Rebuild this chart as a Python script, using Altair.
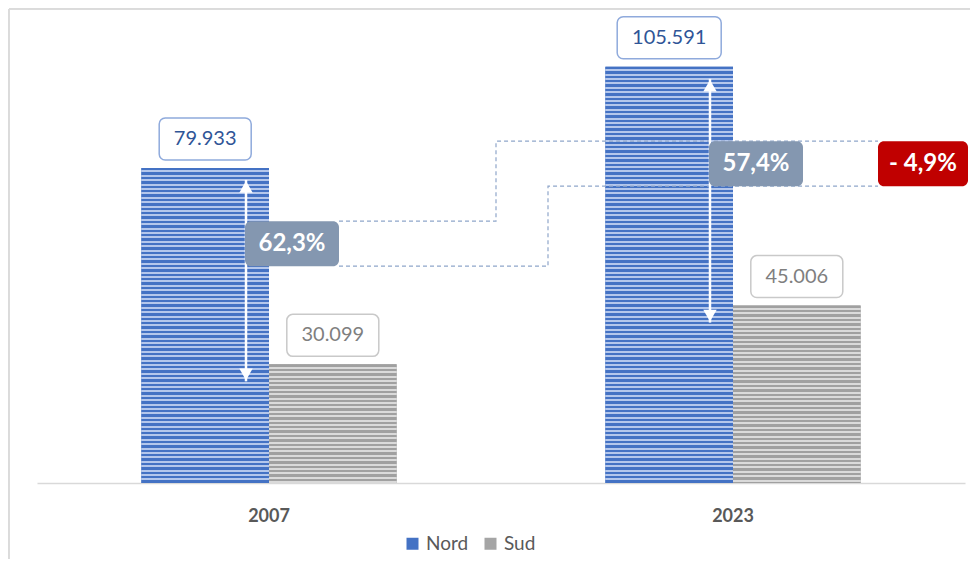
import altair as alt
import pandas as pd

# ---- data ----
years = ["2007", "2023"]
series = ["Nord", "Sud"]
nord = [79933, 105591]
sud = [30099, 45006]

Y_MAX = 120000
W, H = 928, 473
K = H / Y_MAX  # px per unit


def fmt_int(v):
    return f"{v:,}".replace(",", ".")


def fmt_pct(p):
    return f"{p:.1f}".replace(".", ",") + "%"


rows = []
for i, yr in enumerate(years):
    rows.append({"year": yr, "series": "Nord", "value": nord[i], "label": fmt_int(nord[i])})
    rows.append({"year": yr, "series": "Sud", "value": sud[i], "label": fmt_int(sud[i])})
bars = pd.DataFrame(rows)

pcts = [round((n - s) / n * 100, 1) for n, s in zip(nord, sud)]
ann = pd.DataFrame({
    "year": years,
    "nord": nord,
    "sud": sud,
    "mid": [(n + s) / 2 for n, s in zip(nord, sud)],
    "pct": [fmt_pct(p) for p in pcts],
})
diff = round(pcts[1] - pcts[0], 1)
diff_label = ("- " if diff < 0 else "+ ") + fmt_pct(abs(diff))

mid07, mid23 = ann["mid"].tolist()
# connector polylines (x in plot pixels, y in data units)
lines = pd.DataFrame({
    "line": ["top"] * 4 + ["bot"] * 4,
    "i": [0, 1, 2, 3] * 2,
    "px": [302, 459, 459, 841, 302, 511, 511, 841],
    "v": [mid07, mid07, mid23, mid23, mid07, mid07, mid23, mid23],
})
red = pd.DataFrame({"x1": [841], "x2": [931], "xc": [886], "mid": [mid23], "label": [diff_label]})


# ---- stripes (style) ----
def stripes(h_px, dark, light, period=4.4, dark_frac=0.55):
    stops = []
    y = 0.0
    while y < h_px - 1e-6:
        a = y / h_px
        b = min((y + period * dark_frac) / h_px, 1)
        c = min((y + period) / h_px, 1)
        stops += [
            {"offset": a, "color": dark},
            {"offset": b, "color": dark},
            {"offset": b, "color": light},
            {"offset": c, "color": light},
        ]
        y += period
    return {"gradient": "linear", "x1": 0, "x2": 0, "y1": 0, "y2": 1, "stops": stops}


STRIPE = {"Nord": ("#4472C4", "#B4C7EC"), "Sud": ("#A0A0A0", "#DADADA")}

# ---- encodings ----
x_enc = alt.X(
    "year:N", sort=years,
    scale=alt.Scale(paddingInner=0.45, paddingOuter=0.225),
    axis=alt.Axis(title=None, labelAngle=0, ticks=False, labelPadding=24, grid=False,
                  labelFont="Lato", labelFontWeight="bold", labelFontSize=18,
                  labelColor="#595959", domainColor="#D9D9D9", domainWidth=1.5),
)
xo_enc = alt.XOffset("series:N", sort=series, scale=alt.Scale(paddingInner=0, paddingOuter=0))
y_scale = alt.Scale(domain=[0, Y_MAX], nice=False)


def Y(field):
    return alt.Y(field, scale=y_scale, axis=None)


layers = []

# solid base bars (carry the legend)
layers.append(
    alt.Chart(bars).mark_bar().encode(
        x=x_enc, xOffset=xo_enc, y=Y("value:Q"),
        color=alt.Color("series:N", sort=series,
                        scale=alt.Scale(domain=series, range=["#4472C4", "#A5A5A5"]),
                        legend=alt.Legend(title=None, orient="none", legendX=366, legendY=524,
                                          direction="horizontal", symbolType="square",
                                          symbolSize=144, labelFont="Lato", labelFontSize=19,
                                          labelColor="#595959", columnPadding=12, labelOffset=4,
                                          padding=0, symbolStrokeWidth=0)),
    )
)

# striped overlays
for _, r in bars.iterrows():
    dark, light = STRIPE[r["series"]]
    grad = stripes(r["value"] * K, dark, light)
    layers.append(
        alt.Chart(bars).transform_filter(
            (alt.datum.year == r["year"]) & (alt.datum.series == r["series"])
        ).mark_bar(color=grad).encode(x=x_enc, xOffset=xo_enc, y=Y("value:Q"))
    )

# dashed connectors
dash_style = dict(strokeDash=[4, 3], color="#8FA6CA", strokeWidth=1.2)
layers.append(
    alt.Chart(lines).transform_filter(alt.datum.line == "top").mark_line(yOffset=-45, **dash_style).encode(
        x=alt.X("px:Q", scale=None, axis=None), y=Y("v:Q"), order="i:Q")
)
layers.append(
    alt.Chart(lines).transform_filter(alt.datum.line == "bot").mark_line(**dash_style).encode(
        x=alt.X("px:Q", scale=None, axis=None), y=Y("v:Q"), order="i:Q")
)

# double arrows
layers.append(
    alt.Chart(ann).mark_rule(color="white", strokeWidth=2.5, xOffset=-23, yOffset=12, y2Offset=17).encode(
        x=x_enc, y=Y("nord:Q"), y2="sud:Q")
)
layers.append(
    alt.Chart(ann).mark_point(shape="triangle-up", filled=True, color="white", opacity=1,
                              size=180, xOffset=-23, yOffset=19).encode(x=x_enc, y=Y("nord:Q"))
)
layers.append(
    alt.Chart(ann).mark_point(shape="triangle-down", filled=True, color="white", opacity=1,
                              size=180, xOffset=-23, yOffset=10).encode(x=x_enc, y=Y("sud:Q"))
)

# value boxes + labels
layers.append(
    alt.Chart(bars).transform_calculate(boxw="20 + 12*length(datum.label)")
    .mark_bar(fill="white", strokeWidth=1.5, cornerRadius=6, yOffset=-8, y2Offset=-50)
    .encode(
        x=x_enc, xOffset=xo_enc, y=Y("value:Q"), y2="value:Q",
        size=alt.Size("boxw:Q", scale=None, legend=None),
        stroke=alt.condition(alt.datum.series == "Nord", alt.value("#8FAADC"), alt.value("#C9C9C9")),
    )
)
layers.append(
    alt.Chart(bars).mark_text(font="Lato", fontSize=20, dy=-29, baseline="middle").encode(
        x=x_enc, xOffset=xo_enc, y=Y("value:Q"), text="label:N",
        color=alt.condition(alt.datum.series == "Nord", alt.value("#2F5597"), alt.value("#7F7F7F")),
    )
)

# percent boxes
layers.append(
    alt.Chart(ann).mark_bar(color="#8497B0", cornerRadius=6, width=94, xOffset=23, y2Offset=-45).encode(
        x=x_enc, y=Y("mid:Q"), y2="mid:Q")
)
layers.append(
    alt.Chart(ann).mark_text(font="Lato", fontSize=24, fontWeight="bold", color="white",
                             dx=23, dy=-22.5, baseline="middle").encode(
        x=x_enc, y=Y("mid:Q"), text="pct:N")
)

# difference box
layers.append(
    alt.Chart(red).mark_rect(color="#C00000", cornerRadius=6, y2Offset=-45).encode(
        x=alt.X("x1:Q", scale=None, axis=None), x2="x2:Q", y=Y("mid:Q"), y2="mid:Q")
)
layers.append(
    alt.Chart(red).mark_text(font="Lato", fontSize=24, fontWeight="bold", color="white",
                             dy=-22.5, baseline="middle").encode(
        x=alt.X("xc:Q", scale=None, axis=None), y=Y("mid:Q"), text="label:N")
)

# outer frame
layers.append(alt.Chart(bars).mark_rule(color="#D9D9D9", strokeWidth=1).encode(
    x=alt.value(-28), y=alt.value(-1), y2=alt.value(600)))
layers.append(alt.Chart(bars).mark_rule(color="#D9D9D9", strokeWidth=1).encode(
    x=alt.value(-28), x2=alt.value(1000), y=alt.value(-1)))

chart = alt.layer(*layers).properties(
    width=W, height=H,
    autosize=alt.AutoSizeParams(type="none"),
    padding={"left": 29, "top": 2, "right": 5, "bottom": 76},
    background="white",
).configure_view(stroke=None)

chart.save("out.html", embed_options={"renderer": "svg", "actions": False})
